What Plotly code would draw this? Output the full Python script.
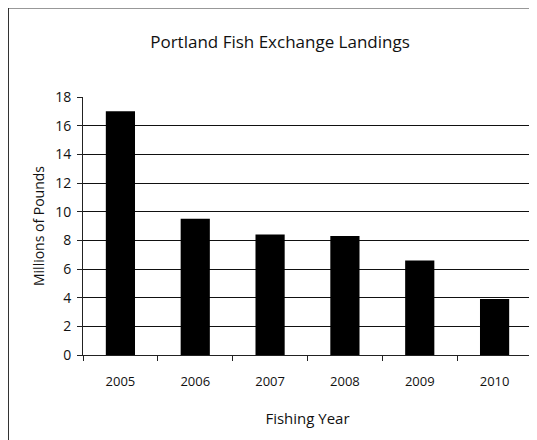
import plotly.graph_objects as go

years = ["2005", "2006", "2007", "2008", "2009", "2010"]
landings = [17.0, 9.5, 8.4, 8.3, 6.6, 3.9]
y_ticks = [0, 2, 4, 6, 8, 10, 12, 14, 16, 18]

# page has an 8px body margin; compensate
OFF = 8
W, H = 537 - OFF, 440 - OFF
ml, mt = 83 - OFF, 97 - OFF
mr = W - (532 - OFF)
mb = H - (355 - OFF)
pw, ph = W - ml - mr, H - mt - mb

n = len(years)
positions = list(range(n))
boundaries = [i - 0.5 for i in range(n + 1)]

fig = go.Figure()
fig.add_trace(go.Bar(x=positions, y=landings, marker=dict(color="black", line=dict(width=0)),
                     width=0.39))

font = "Open Sans, Liberation Sans, sans-serif"
fig.update_layout(
    width=W, height=H,
    margin=dict(l=ml, r=mr, t=mt, b=mb),
    paper_bgcolor="white", plot_bgcolor="white",
    showlegend=False,
    font=dict(family=font, color="#111", size=13),
    title=dict(text="Portland Fish Exchange Landings", x=(280 - OFF - ml) / pw, xref="paper",
               xanchor="center", y=1 - (42 - OFF) / H, yanchor="middle",
               font=dict(size=17, color="#111")),
    xaxis=dict(
        range=[-0.5, n - 0.5], tickvals=positions, ticktext=years,
        showline=True, linecolor="#222", linewidth=1, zeroline=False,
        ticks="", showgrid=False, tickfont=dict(size=13), ticklabelstandoff=14,
        minor=dict(tickvals=boundaries, ticks="outside", ticklen=5, tickcolor="#222",
                   tickwidth=1, showgrid=False),
        title=dict(text="Fishing Year", font=dict(size=15), standoff=24),
    ),
    yaxis=dict(
        range=[0, 18], tickvals=y_ticks, showline=True, linecolor="#222", linewidth=1,
        ticks="outside", ticklen=5, tickcolor="#222",
        showgrid=True, gridcolor="#111", gridwidth=1, zeroline=False,
        tickfont=dict(size=14), ticklabelstandoff=3,
        title=dict(text="Millions of Pounds", font=dict(size=14), standoff=7),
    ),
    shapes=[
        dict(type="line", xref="paper", yref="paper",
             x0=(8.5 - 83) / pw, x1=(8.5 - 83) / pw, y0=(355 - 445) / ph, y1=(355 - 8) / ph,
             line=dict(color="#333", width=1)),
        dict(type="line", xref="paper", yref="paper",
             x0=(8 - 83) / pw, x1=(540 - 83) / pw, y0=(355 - 8) / ph, y1=(355 - 8) / ph,
             line=dict(color="#333", width=1)),
    ],
)

fig.write_html("out.html")
